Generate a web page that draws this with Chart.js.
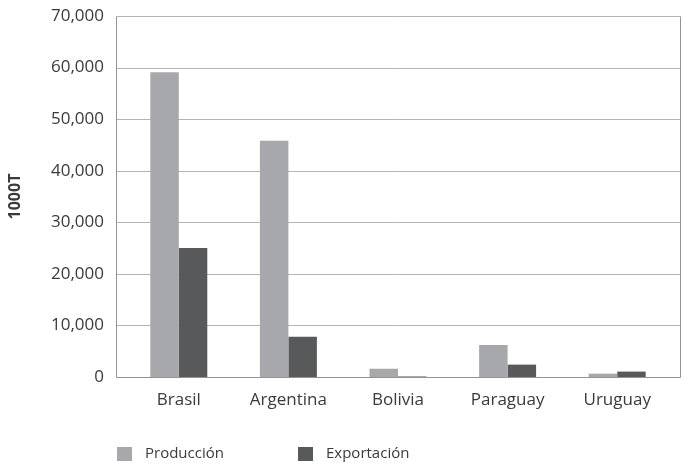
<!DOCTYPE html>
<html>
<head>
<meta charset="utf-8">
<script src="https://cdn.jsdelivr.net/npm/chart.js@4"></script>
<style>
  html, body { margin: 0; padding: 0; background: #fff; }
  #wrap { width: 688px; height: 466px; }
</style>
</head>
<body>
<div id="wrap"><canvas id="soy-chart"></canvas></div>
<script>
const countries = ['Brasil', 'Argentina', 'Bolivia', 'Paraguay', 'Uruguay'];
const produccion = [59100, 45800, 1600, 6200, 650];
const exportacion = [25000, 7800, 100, 2400, 1050];
const yTicks = [0, 10000, 20000, 30000, 40000, 50000, 60000, 70000];
const seriesNames = ['Producción', 'Exportación'];
const seriesColors = ['#a7a8ab', '#58595b'];

Chart.defaults.font.family = "'Open Sans', sans-serif";
Chart.defaults.color = '#3a3a3a';

// horizontal grid + box frame, drawn slightly wider than the category band
const framePlugin = {
  id: 'frame',
  beforeDatasetsDraw(chart) {
    const { ctx, chartArea: a, scales: { y } } = chart;
    const x0 = Math.round(a.left - 8) + 0.5;
    const x1 = Math.round(a.right + 8) + 0.5;
    ctx.save();
    ctx.lineWidth = 1;
    ctx.strokeStyle = '#b4b4b4';
    yTicks.forEach(v => {
      if (v === 0) return;
      const py = Math.round(y.getPixelForValue(v)) + 0.5;
      ctx.beginPath();
      ctx.moveTo(x0, py);
      ctx.lineTo(x1, py);
      ctx.stroke();
    });
    const top = Math.round(y.getPixelForValue(yTicks[yTicks.length - 1])) + 0.5;
    const base = Math.round(y.getPixelForValue(0)) + 0.5;
    ctx.strokeStyle = '#939393';
    ctx.beginPath();
    ctx.moveTo(x0, top);
    ctx.lineTo(x0, base);
    ctx.lineTo(x1, base);
    ctx.lineTo(x1, top);
    ctx.stroke();
    ctx.restore();
  }
};

// legend along the bottom-left
const legendPlugin = {
  id: 'bottomLegend',
  afterDraw(chart) {
    const { ctx } = chart;
    const starts = [117, 298];
    ctx.save();
    ctx.font = "15px 'Open Sans', sans-serif";
    ctx.textBaseline = 'middle';
    chart.data.datasets.forEach((ds, i) => {
      ctx.fillStyle = ds.backgroundColor;
      ctx.fillRect(starts[i], 447, 15, 14);
      ctx.fillStyle = '#3a3a3a';
      ctx.fillText(ds.label, starts[i] + 28, 454);
    });
    ctx.restore();
  }
};

new Chart(document.getElementById('soy-chart'), {
  type: 'bar',
  data: {
    labels: countries,
    datasets: [
      { label: seriesNames[0], data: produccion, backgroundColor: seriesColors[0] },
      { label: seriesNames[1], data: exportacion, backgroundColor: seriesColors[1] }
    ]
  },
  options: {
    responsive: true,
    maintainAspectRatio: false,
    animation: false,
    categoryPercentage: 0.52,
    barPercentage: 1,
    borderWidth: 0,
    layout: { padding: { top: 16, right: 16, left: 0, bottom: 0 } },
    plugins: {
      legend: { display: false },
      tooltip: { enabled: false }
    },
    scales: {
      x: {
        grid: { display: false },
        border: { display: false },
        ticks: { font: { size: 17 }, padding: 5 },
        afterFit(scale) { scale.height = 89; }
      },
      y: {
        min: 0,
        max: 70000,
        grid: { display: false, drawTicks: false },
        border: { display: false },
        ticks: {
          stepSize: 10000,
          padding: 20,
          font: { size: 17 },
          callback: v => v.toLocaleString('en-US')
        },
        title: {
          display: true,
          text: '1000T',
          font: { size: 16, weight: 'bold' },
          padding: { top: 6, bottom: 0 }
        },
        afterFit(scale) {
          scale.width = 124;
          scale.paddingTop = 0;
          scale.paddingBottom = 0;
        }
      }
    }
  },
  plugins: [framePlugin, legendPlugin]
});
</script>
</body>
</html>
